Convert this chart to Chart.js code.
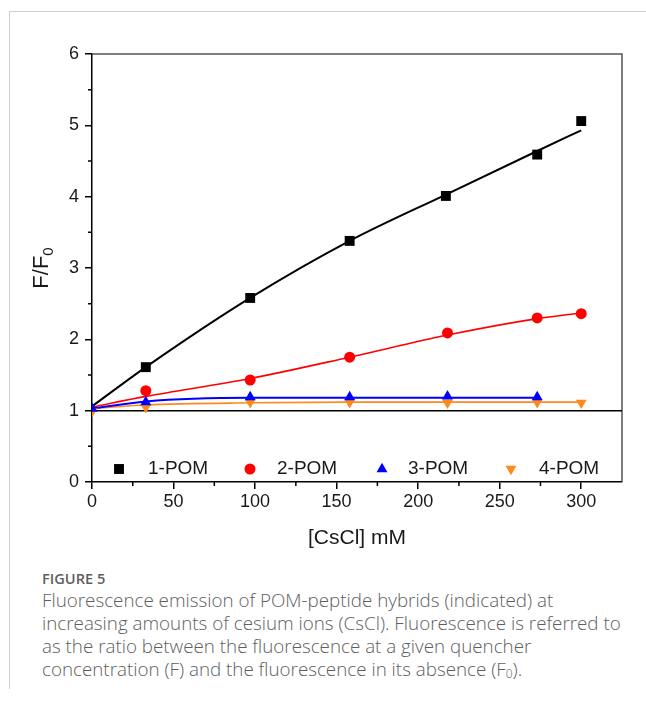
<!DOCTYPE html>
<html>
<head>
<meta charset="utf-8">
<script src="https://cdn.jsdelivr.net/npm/chart.js@4.4.1/dist/chart.umd.min.js"></script>
<style>
  html, body { margin: 0; padding: 0; background: #fff; }
  body { width: 646px; height: 706px; position: relative; overflow: hidden; }
  #frame { position: absolute; left: 9px; top: 11px; width: 640px; height: 677px;
           border-top: 1px solid #d0d0d0; border-left: 1px solid #d0d0d0; }
  #wrap { position: absolute; left: 0; top: 0; width: 646px; height: 560px; }
  #caption { position: absolute; left: 42px; top: 567px; color: #5e5e5e;
             font-family: "Open Sans", sans-serif; white-space: nowrap; }
  #caption .fig { font-size: 14.6px; font-weight: 600; line-height: 22px; }
  #caption .txt { font-size: 18.8px; font-weight: 300; line-height: 23px; }
  #caption sub { font-size: 12px; vertical-align: -2px; }
</style>
</head>
<body>
<div id="frame"></div>
<div id="wrap"><canvas id="myChart" width="646" height="560"></canvas></div>
<div id="caption">
  <div class="fig">FIGURE 5</div>
  <div class="txt">Fluorescence emission of POM-peptide hybrids (indicated) at<br>increasing amounts of cesium ions (CsCl). Fluorescence is referred to<br>as the ratio between the fluorescence at a given quencher<br>concentration (F) and the fluorescence in its absence (F<sub>0</sub>).</div>
</div>
<script>
// measured points, [CsCl] in mM
const names = ["1-POM", "2-POM", "3-POM", "4-POM"];
const x1 = [33, 97, 158, 217, 273, 300];
const y1 = [1.61, 2.58, 3.38, 4.01, 4.59, 5.06];
const x2 = [33, 97, 158, 218, 273, 300];
const y2 = [1.28, 1.43, 1.75, 2.09, 2.30, 2.36];
const x3 = [0, 33, 97, 158, 218, 273];
const y3 = [1.03, 1.12, 1.19, 1.19, 1.20, 1.19];
const x4 = [0, 33, 97, 158, 218, 273, 300];
const y4 = [0.99, 1.05, 1.12, 1.12, 1.11, 1.12, 1.11];

// fitted curves
const fitX1 = [0, 33, 97, 158, 218, 273, 300];
const fitY1 = [1.06, 1.61, 2.58, 3.38, 4.04, 4.64, 4.93];
const fitX2 = [0, 33, 97, 158, 218, 273, 300];
const fitY2 = [1.05, 1.20, 1.45, 1.75, 2.06, 2.29, 2.37];
const fitX3 = [0, 33, 97, 158, 218, 273];
const fitY3 = [1.03, 1.13, 1.18, 1.18, 1.18, 1.18];
const fitX4 = [0, 33, 97, 158, 218, 273, 300];
const fitY4 = [1.03, 1.08, 1.11, 1.12, 1.12, 1.12, 1.12];

const xTicks = [0, 50, 100, 150, 200, 250, 300];
const yTicks = [0, 1, 2, 3, 4, 5, 6];

const colors = ["#000000", "#ff0000", "#0000ff", "#ff8a1a"];
const ctx = document.getElementById('myChart');

function pts(xs, ys) {
  return xs.map((x, i) => ({ x: x, y: ys[i] }));
}

function markerSet(i, xs, ys, style, radius, rotation) {
  return {
    label: names[i],
    data: pts(xs, ys),
    showLine: false,
    pointStyle: style,
    pointRadius: radius,
    pointRotation: rotation || 0,
    pointBackgroundColor: colors[i],
    pointBorderColor: colors[i],
    pointBorderWidth: 0,
    order: 1
  };
}

function fitSet(i, xs, ys, width) {
  return {
    label: names[i] + " fit",
    data: pts(xs, ys),
    showLine: true,
    borderColor: colors[i],
    borderWidth: width,
    pointRadius: 0,
    cubicInterpolationMode: 'monotone',
    order: 2
  };
}

const markers = [
  markerSet(0, x1, y1, 'rect', 7),
  markerSet(1, x2, y2, 'circle', 5.5),
  markerSet(2, x3, y3, 'triangle', 6.3),
  markerSet(3, x4, y4, 'triangle', 6.3, 180)
];

const fontFam = '"Liberation Sans", Arial, sans-serif';

// axis frame, minor ticks, y=1 line, y title and legend
const decor = {
  id: 'decor',
  beforeDatasetsDraw(chart) {
    const a = chart.chartArea;
    const c = chart.ctx;
    const ys = chart.scales.y;
    c.save();
    c.strokeStyle = '#555';
    c.lineWidth = 1.5;
    c.beginPath();
    c.moveTo(a.left, a.top);
    c.lineTo(a.right, a.top);
    c.lineTo(a.right, a.bottom);
    c.stroke();
    c.strokeStyle = '#000';
    c.beginPath();
    const y1px = ys.getPixelForValue(1);
    c.moveTo(a.left, y1px);
    c.lineTo(a.right, y1px);
    c.stroke();
    c.restore();
  },
  afterDraw(chart) {
    const a = chart.chartArea;
    const c = chart.ctx;
    const xs = chart.scales.x;
    const ys = chart.scales.y;
    c.save();
    c.strokeStyle = '#000';
    c.lineWidth = 1.5;
    c.beginPath();
    for (let v = 0.5; v < 6; v += 1) {
      const p = ys.getPixelForValue(v);
      c.moveTo(a.left - 4, p);
      c.lineTo(a.left, p);
    }
    for (let v = 25; v < 300; v += 50) {
      const p = xs.getPixelForValue(v);
      c.moveTo(p, a.bottom);
      c.lineTo(p, a.bottom + 4);
    }
    c.stroke();

    // F/F0 title
    c.fillStyle = '#1a1a1a';
    c.translate(42, 268);
    c.rotate(-Math.PI / 2);
    c.font = '22px ' + fontFam;
    const w1 = c.measureText('F/F').width;
    c.font = '15px ' + fontFam;
    const w2 = c.measureText('0').width;
    const start = -(w1 + w2) / 2;
    c.textBaseline = 'middle';
    c.textAlign = 'left';
    c.font = '22px ' + fontFam;
    c.fillText('F/F', start, 0);
    c.font = '15px ' + fontFam;
    c.fillText('0', start + w1, 7);
    c.restore();

    // legend row inside the plot
    const row = [[119, 148], [250, 277], [382, 408], [511, 539]];
    c.save();
    c.font = '19px ' + fontFam;
    c.textBaseline = 'middle';
    markers.forEach((ds, i) => {
      c.fillStyle = colors[i];
      c.strokeStyle = colors[i];
      Chart.helpers.drawPoint(c, {
        pointStyle: ds.pointStyle,
        radius: ds.pointRadius,
        rotation: ds.pointRotation,
        borderWidth: 0
      }, row[i][0], 469);
      c.fillStyle = '#1a1a1a';
      c.fillText(names[i], row[i][1], 469);
    });
    c.restore();
  }
};

const tickFont = { family: fontFam, size: 18 };

new Chart(ctx, {
  type: 'scatter',
  data: {
    datasets: markers.concat([
      fitSet(0, fitX1, fitY1, 2),
      fitSet(1, fitX2, fitY2, 1.6),
      fitSet(2, fitX3, fitY3, 2),
      fitSet(3, fitX4, fitY4, 1.6)
    ])
  },
  options: {
    responsive: false,
    animation: false,
    layout: { padding: { top: 54, right: 24, left: 0, bottom: 0 } },
    plugins: {
      legend: { display: false },
      tooltip: { enabled: false }
    },
    scales: {
      x: {
        type: 'linear',
        min: 0,
        max: 325,
        afterFit: function (s) { s.height = 78; },
        afterBuildTicks: function (s) {
          s.ticks = xTicks.map(v => ({ value: v }));
        },
        ticks: { color: '#1a1a1a', font: tickFont, padding: 2, maxRotation: 0 },
        grid: { drawOnChartArea: false, tickLength: 7, color: '#000', lineWidth: 1.5 },
        border: { color: '#000', width: 1.5 },
        title: {
          display: true,
          text: '[CsCl] mM',
          color: '#1a1a1a',
          font: { family: fontFam, size: 21 },
          padding: { top: 0, bottom: 9 }
        }
      },
      y: {
        min: 0,
        max: 6,
        afterFit: function (s) { s.width = 92; },
        afterBuildTicks: function (s) {
          s.ticks = yTicks.map(v => ({ value: v }));
        },
        ticks: { color: '#1a1a1a', font: tickFont, padding: 6 },
        grid: { drawOnChartArea: false, tickLength: 7, color: '#000', lineWidth: 1.5 },
        border: { color: '#000', width: 1.5 }
      }
    }
  },
  plugins: [decor]
});
</script>
</body>
</html>
